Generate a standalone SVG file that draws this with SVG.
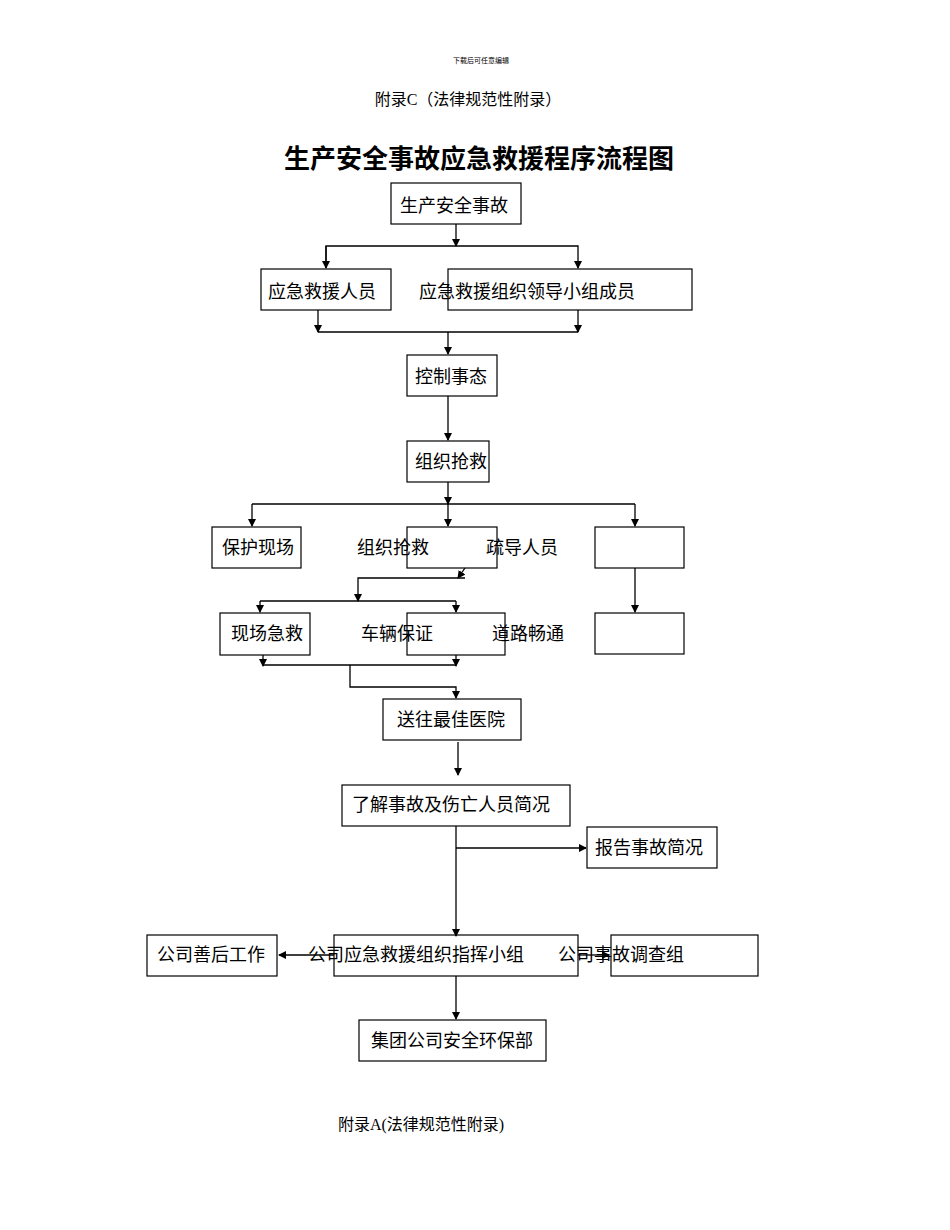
<svg xmlns="http://www.w3.org/2000/svg" width="950" height="1230" viewBox="0 0 950 1230">
<style>
text{font-family:"Liberation Serif","Noto Sans CJK SC",serif;fill:#000;text-anchor:middle}
.t{font-size:18px}
rect{fill:none;stroke:#000;stroke-width:1.2}
.c line,.c polyline{stroke:#000;stroke-width:1.3;fill:none}
</style>
<defs><marker id="a" markerWidth="8" markerHeight="8" refX="7" refY="4" orient="auto" markerUnits="userSpaceOnUse"><path d="M0,0L8,4L0,8z" fill="#000"/></marker></defs>
<rect x="0" y="0" width="950" height="1230" style="fill:#fff;stroke:none"/>
<text x="481" y="63" font-size="7">下载后可任意编辑</text>
<text x="468" y="105" font-size="16">附录C（法律规范性附录）</text>
<text x="479" y="168" font-size="26" font-weight="bold">生产安全事故应急救援程序流程图</text>
<g class="c">
<line x1="456" y1="224" x2="456" y2="246" marker-end="url(#a)"/>
<polyline points="326,268 326,246 578,246 578,268" marker-end="url(#a)"/>
<line x1="326" y1="246" x2="326" y2="268" marker-end="url(#a)"/>
<line x1="318" y1="310" x2="318" y2="332" marker-end="url(#a)"/>
<line x1="578" y1="310" x2="578" y2="332" marker-end="url(#a)"/>
<line x1="318" y1="332" x2="578" y2="332"/>
<line x1="448" y1="332" x2="448" y2="354" marker-end="url(#a)"/>
<line x1="448" y1="396" x2="448" y2="440" marker-end="url(#a)"/>
<line x1="448" y1="482" x2="448" y2="504" marker-end="url(#a)"/>
<line x1="252" y1="504" x2="635" y2="504"/>
<line x1="252" y1="504" x2="252" y2="526" marker-end="url(#a)"/>
<line x1="448" y1="504" x2="448" y2="526" marker-end="url(#a)"/>
<line x1="635" y1="504" x2="635" y2="526" marker-end="url(#a)"/>
<line x1="635" y1="568" x2="635" y2="612" marker-end="url(#a)"/>
<line x1="465" y1="568" x2="458" y2="578" marker-end="url(#a)"/>
<polyline points="465,578 358,578 358,601" marker-end="url(#a)"/>
<line x1="260" y1="601" x2="456" y2="601"/>
<line x1="260" y1="601" x2="260" y2="612" marker-end="url(#a)"/>
<line x1="456" y1="601" x2="456" y2="612" marker-end="url(#a)"/>
<line x1="263" y1="655" x2="263" y2="666" marker-end="url(#a)"/>
<line x1="456" y1="655" x2="456" y2="666" marker-end="url(#a)"/>
<line x1="263" y1="665" x2="456" y2="665"/>
<polyline points="350,665 350,687 456,687 456,698" marker-end="url(#a)"/>
<line x1="458" y1="742" x2="458" y2="775" marker-end="url(#a)"/>
<line x1="456" y1="826" x2="456" y2="936" marker-end="url(#a)"/>
<line x1="456" y1="848" x2="586" y2="848" marker-end="url(#a)"/>
<line x1="334" y1="955" x2="279" y2="955" marker-end="url(#a)"/>
<line x1="578" y1="955" x2="609" y2="955" marker-end="url(#a)"/>
<line x1="456" y1="976" x2="456" y2="1019" marker-end="url(#a)"/>
</g>
<g id="n1"><rect x="391" y="183" width="130" height="41"/><text class="t" x="454" y="212">生产安全事故</text></g>
<g id="n2"><rect x="261" y="269" width="130" height="41"/><text class="t" x="322" y="298">应急救援人员</text></g>
<g id="n3"><rect x="448" y="269" width="244" height="41"/><text class="t" x="527" y="298">应急救援组织领导小组成员</text></g>
<g id="n4"><rect x="407" y="355" width="90" height="41"/><text class="t" x="451" y="383">控制事态</text></g>
<g id="n5"><rect x="407" y="441" width="82" height="41"/><text class="t" x="451" y="468">组织抢救</text></g>
<g id="n6"><rect x="212" y="527" width="89" height="41"/><text class="t" x="258" y="554">保护现场</text></g>
<g id="n7"><rect x="407" y="527" width="90" height="41"/><text class="t" x="393" y="554">组织抢救</text><text class="t" x="522" y="554">疏导人员</text></g>
<g id="n8"><rect x="595" y="527" width="89" height="41"/></g>
<g id="n9"><rect x="595" y="613" width="89" height="41"/></g>
<g id="n10"><rect x="220" y="613" width="90" height="42"/><text class="t" x="267" y="640">现场急救</text></g>
<g id="n11"><rect x="407" y="613" width="98" height="42"/><text class="t" x="397" y="640">车辆保证</text><text class="t" x="528" y="640">道路畅通</text></g>
<g id="n12"><rect x="383" y="699" width="138" height="41"/><text class="t" x="451" y="726">送往最佳医院</text></g>
<g id="n13"><rect x="342" y="785" width="228" height="41"/><text class="t" x="451" y="811">了解事故及伤亡人员简况</text></g>
<g id="n14"><rect x="587" y="827" width="130" height="41"/><text class="t" x="649" y="854">报告事故简况</text></g>
<g id="n15"><rect x="147" y="935" width="130" height="41"/><text class="t" x="211" y="961">公司善后工作</text></g>
<g id="n16"><rect x="334" y="935" width="244" height="41"/><text class="t" x="416" y="961">公司应急救援组织指挥小组</text></g>
<g id="n17"><rect x="611" y="935" width="147" height="41"/><text class="t" x="621" y="961">公司事故调查组</text></g>
<g id="n18"><rect x="359" y="1020" width="187" height="41"/><text class="t" x="452" y="1047">集团公司安全环保部</text></g>
<text x="421" y="1130" font-size="16">附录A(法律规范性附录)</text>
</svg>
